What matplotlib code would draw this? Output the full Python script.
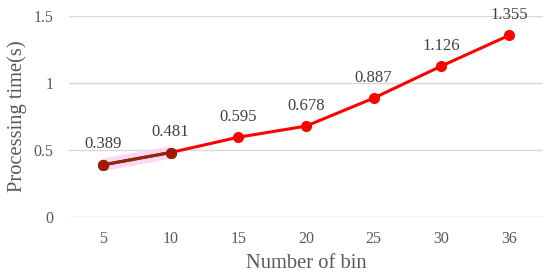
import numpy as np
import matplotlib.pyplot as plt

bins = ["5", "10", "15", "20", "25", "30", "36"]
times = [0.389, 0.481, 0.595, 0.678, 0.887, 1.126, 1.355]
yticks = [0, 0.5, 1, 1.5]
ytick_labels = ["0", "0.5", "1", "1.5"]

plt.rcParams['font.family'] = ['Liberation Serif', 'DejaVu Serif']
text_color = '#595959'

fig = plt.figure(figsize=(5.5, 2.8), dpi=100)
ax = fig.add_axes([0.1255, 0.225, 0.8615, 0.718])

x = np.arange(len(bins))
# faint pink highlight behind the first segment
ax.plot(x[:2], times[:2], color='#f9d0f2', lw=9, alpha=0.8, solid_capstyle='butt', zorder=2)
ax.plot(x, times, color='#ff0000', lw=2.2, marker='o', ms=7, zorder=3)
ax.plot(x[:2], times[:2], color='#8b2a10', lw=2.2, zorder=4)
ax.plot(x[:2], times[:2], 'o', color='#a01a08', ms=7, zorder=4)

for xi, v in zip(x, times):
    ax.annotate("{:.3f}".format(v), (xi, v), xytext=(0, 9), textcoords='offset points',
                ha='center', va='bottom', fontsize=12, color='#404040')

ax.set_xlim(-0.5, len(bins) - 0.5)
ax.set_ylim(0, 1.5)
ax.set_xticks(x)
ax.set_xticklabels(bins)
ax.set_yticks(yticks)
ax.set_yticklabels(ytick_labels)
ax.tick_params(length=0, labelsize=11.5, colors=text_color)
ax.tick_params(axis='x', pad=10)
ax.tick_params(axis='y', pad=11)
ax.grid(axis='y', color='#d9d9d9', lw=1)
ax.set_axisbelow(True)
for s in ax.spines.values():
    s.set_visible(False)

ax.set_xlabel("Number of bin", fontsize=14.8, color=text_color, labelpad=5)
ax.set_ylabel("Processing time(s)", fontsize=14.8, color=text_color, labelpad=5)

fig.savefig("out.png", dpi=100)
